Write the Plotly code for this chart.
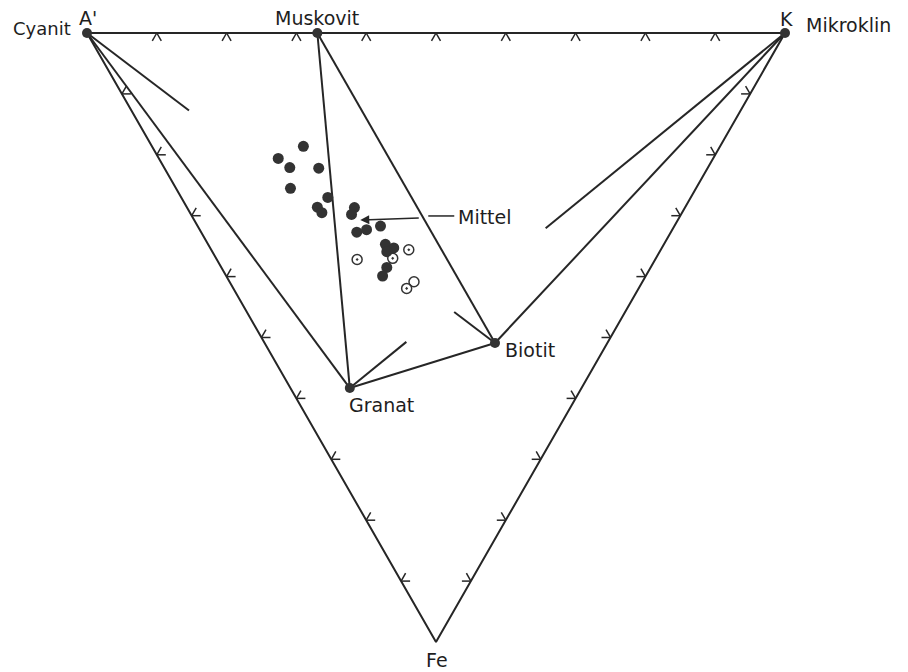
import math
import plotly.graph_objects as go

H = math.sqrt(3) / 2

# ---------------- data (compositions in %: A', K, Fe) ----------------
vertex_labels = ["A'", "K", "Fe"]
vertex_A = [100.0, 0.0, 0.0]
vertex_K = [0.0, 100.0, 0.0]
vertex_Fe = [0.0, 0.0, 100.0]

mineral_labels = ["Muskovit", "Granat", "Biotit"]
mineral_A = [67.0, 33.2, 16.1]
mineral_K = [33.0, 8.5, 33.0]
mineral_Fe = [0.0, 58.3, 50.9]

# full tie lines (pairs of phase names)
tie_lines = [("A'", "Granat"), ("Muskovit", "Granat"), ("Muskovit", "Biotit"),
             ("Granat", "Biotit"), ("K", "Biotit")]
# crossing tie lines drawn only near both ends: (from, to, fraction drawn from start, fraction drawn from end)
partial_ties = [("A'", "Biotit", 0.25, 0.10), ("K", "Granat", 0.55, 0.13)]

# samples, filled symbols
filled_A = [59.7, 62.3, 59.9, 55.7, 58.1, 52.0, 52.7, 51.6, 47.4, 47.2, 45.0, 43.8, 42.1, 39.9, 38.4, 39.1, 37.8, 37.7]
filled_K = [21.7, 17.1, 18.0, 22.1, 16.4, 21.0, 18.7, 18.9, 24.0, 23.0, 22.3, 23.9, 26.2, 25.4, 26.3, 25.0, 23.7, 22.4]
filled_Fe = [18.6, 20.6, 22.1, 22.2, 25.5, 27.0, 28.6, 29.5, 28.7, 29.8, 32.7, 32.3, 31.7, 34.7, 35.3, 35.9, 38.5, 39.9]

# samples, open circle with dot
dotted_A = [42.7, 36.1, 37.7, 33.2]
dotted_K = [20.1, 28.3, 25.3, 24.8]
dotted_Fe = [37.2, 35.6, 37.0, 41.9]

# sample, open circle
open_A = [32.7]
open_K = [26.4]
open_Fe = [40.8]

# mean ("Mittel")
mean_A, mean_K, mean_Fe = 45.5, 23.8, 30.7

# scale ticks along each edge (%)
tick_values = [10, 20, 30, 40, 50, 60, 70, 80, 90]

# ---------------- helpers ----------------
def to_xy(a, k, f):
    s = a + k + f
    k, f = k / s, f / s
    return k + f / 2.0, -f * H

phase = {}
for n, a, k, f in zip(vertex_labels, vertex_A, vertex_K, vertex_Fe):
    phase[n] = to_xy(a, k, f)
for n, a, k, f in zip(mineral_labels, mineral_A, mineral_K, mineral_Fe):
    phase[n] = to_xy(a, k, f)

LINE = "#262626"
PX_X = 698.0      # px per x unit
PX_Y = 703.2      # px per y unit
X0_PX = 79        # pixel position of A' inside the figure
Y0_PX = 25

fig = go.Figure()

# triangle outline
tx, ty = [], []
for n in ["A'", "K", "Fe", "A'"]:
    tx.append(phase[n][0]); ty.append(phase[n][1])
fig.add_trace(go.Scatter(x=tx, y=ty, mode="lines", line=dict(color=LINE, width=2),
                         hoverinfo="skip", showlegend=False))

# tie lines
lx, ly = [], []
for p, q in tie_lines:
    lx += [phase[p][0], phase[q][0], None]
    ly += [phase[p][1], phase[q][1], None]
for p, q, t1, t2 in partial_ties:
    (x1, y1), (x2, y2) = phase[p], phase[q]
    lx += [x1, x1 + (x2 - x1) * t1, None, x2, x2 + (x1 - x2) * t2, None]
    ly += [y1, y1 + (y2 - y1) * t1, None, y2, y2 + (y1 - y2) * t2, None]
fig.add_trace(go.Scatter(x=lx, y=ly, mode="lines", line=dict(color=LINE, width=2),
                         hoverinfo="skip", showlegend=False))

# chevron ticks on the edges (apex on edge, arms pointing inward)
edges = [("A'", "K"), ("A'", "Fe"), ("K", "Fe")]
cx_c = sum(phase[n][0] for n in vertex_labels) / 3
cy_c = sum(phase[n][1] for n in vertex_labels) / 3
arm = 9.0 / PX_X
cx, cy = [], []
for p, q in edges:
    (x1, y1), (x2, y2) = phase[p], phase[q]
    dx, dy = x2 - x1, y2 - y1
    L = math.hypot(dx, dy)
    nx, ny = -dy / L, dx / L
    mx, my = (x1 + x2) / 2, (y1 + y2) / 2
    if (cx_c - mx) * nx + (cy_c - my) * ny < 0:
        nx, ny = -nx, -ny
    for tv in tick_values:
        px, py = x1 + dx * tv / 100, y1 + dy * tv / 100
        for ang in (math.radians(30), math.radians(-30)):
            ax = nx * math.cos(ang) - ny * math.sin(ang)
            ay = nx * math.sin(ang) + ny * math.cos(ang)
            cx += [px, px + ax * arm, None]
            cy += [py, py + ay * arm, None]
fig.add_trace(go.Scatter(x=cx, y=cy, mode="lines", line=dict(color=LINE, width=1.5),
                         hoverinfo="skip", showlegend=False))

# phase points (dots at vertices A', K and at the minerals)
pts = ["A'", "K", "Muskovit", "Granat", "Biotit"]
fig.add_trace(go.Scatter(x=[phase[n][0] for n in pts], y=[phase[n][1] for n in pts],
                         mode="markers", marker=dict(color="#333333", size=10),
                         hoverinfo="skip", showlegend=False))

# samples
fx, fy = zip(*[to_xy(a, k, f) for a, k, f in zip(filled_A, filled_K, filled_Fe)])
fig.add_trace(go.Scatter(x=fx, y=fy, mode="markers",
                         marker=dict(color="#333333", size=11), showlegend=False))
dx_, dy_ = zip(*[to_xy(a, k, f) for a, k, f in zip(dotted_A, dotted_K, dotted_Fe)])
fig.add_trace(go.Scatter(x=dx_, y=dy_, mode="markers",
                         marker=dict(symbol="circle-open-dot", color="#333333", size=10,
                                     line=dict(width=1.5, color="#333333")),
                         showlegend=False))
ox, oy = zip(*[to_xy(a, k, f) for a, k, f in zip(open_A, open_K, open_Fe)])
fig.add_trace(go.Scatter(x=ox, y=oy, mode="markers",
                         marker=dict(symbol="circle-open", color="#333333", size=10,
                                     line=dict(width=1.5, color="#333333")),
                         showlegend=False))

# Mittel pointer
mx_, my_ = to_xy(mean_A, mean_K, mean_Fe)
fig.add_trace(go.Scatter(x=[mx_ + 68 / PX_X, mx_ + 94 / PX_X], y=[my_ + 4 / PX_Y, my_ + 4 / PX_Y],
                         mode="lines", line=dict(color=LINE, width=1.5),
                         hoverinfo="skip", showlegend=False))

FONT = dict(family="DejaVu Sans", size=19, color="#1e1e1e")
ann = []
ann.append(dict(x=mx_, y=my_, ax=60, ay=-2, text="", showarrow=True, arrowhead=2,
                arrowsize=1.2, arrowwidth=1.5, arrowcolor=LINE))
ann.append(dict(x=mx_, y=my_, text="Mittel", showarrow=False, xanchor="left",
                xshift=96, yshift=3, font=FONT))

labels = [
    ("A'", "A'", "center", 1, 15, 19),
    ("A'", "Cyanit", "right", -15, 5, 18),
    ("Muskovit", "Muskovit", "center", 0, 15, 19),
    ("K", "K", "center", 1, 14, 19),
    ("K", "Mikroklin", "left", 20, 8, 19),
    ("Granat", "Granat", "left", -2, -17, 19),
    ("Biotit", "Biotit", "left", 9, -7, 19),
    ("Fe", "Fe", "center", 1, -18, 19),
]
for n, t, xa, xs, ys, fs in labels:
    ann.append(dict(x=phase[n][0], y=phase[n][1], text=t, showarrow=False, xanchor=xa,
                    yanchor="middle", xshift=xs, yshift=ys, borderpad=0,
                    font=dict(FONT, size=fs)))

fig.update_layout(
    width=908, height=672,
    margin=dict(l=0, r=0, t=0, b=0),
    paper_bgcolor="white", plot_bgcolor="white",
    xaxis=dict(range=[-X0_PX / PX_X, (908 - X0_PX) / PX_X], visible=False, fixedrange=True),
    yaxis=dict(range=[-(672 - Y0_PX) / PX_Y, Y0_PX / PX_Y], visible=False, fixedrange=True),
    annotations=ann,
    showlegend=False,
)

fig.write_html("out.html")
